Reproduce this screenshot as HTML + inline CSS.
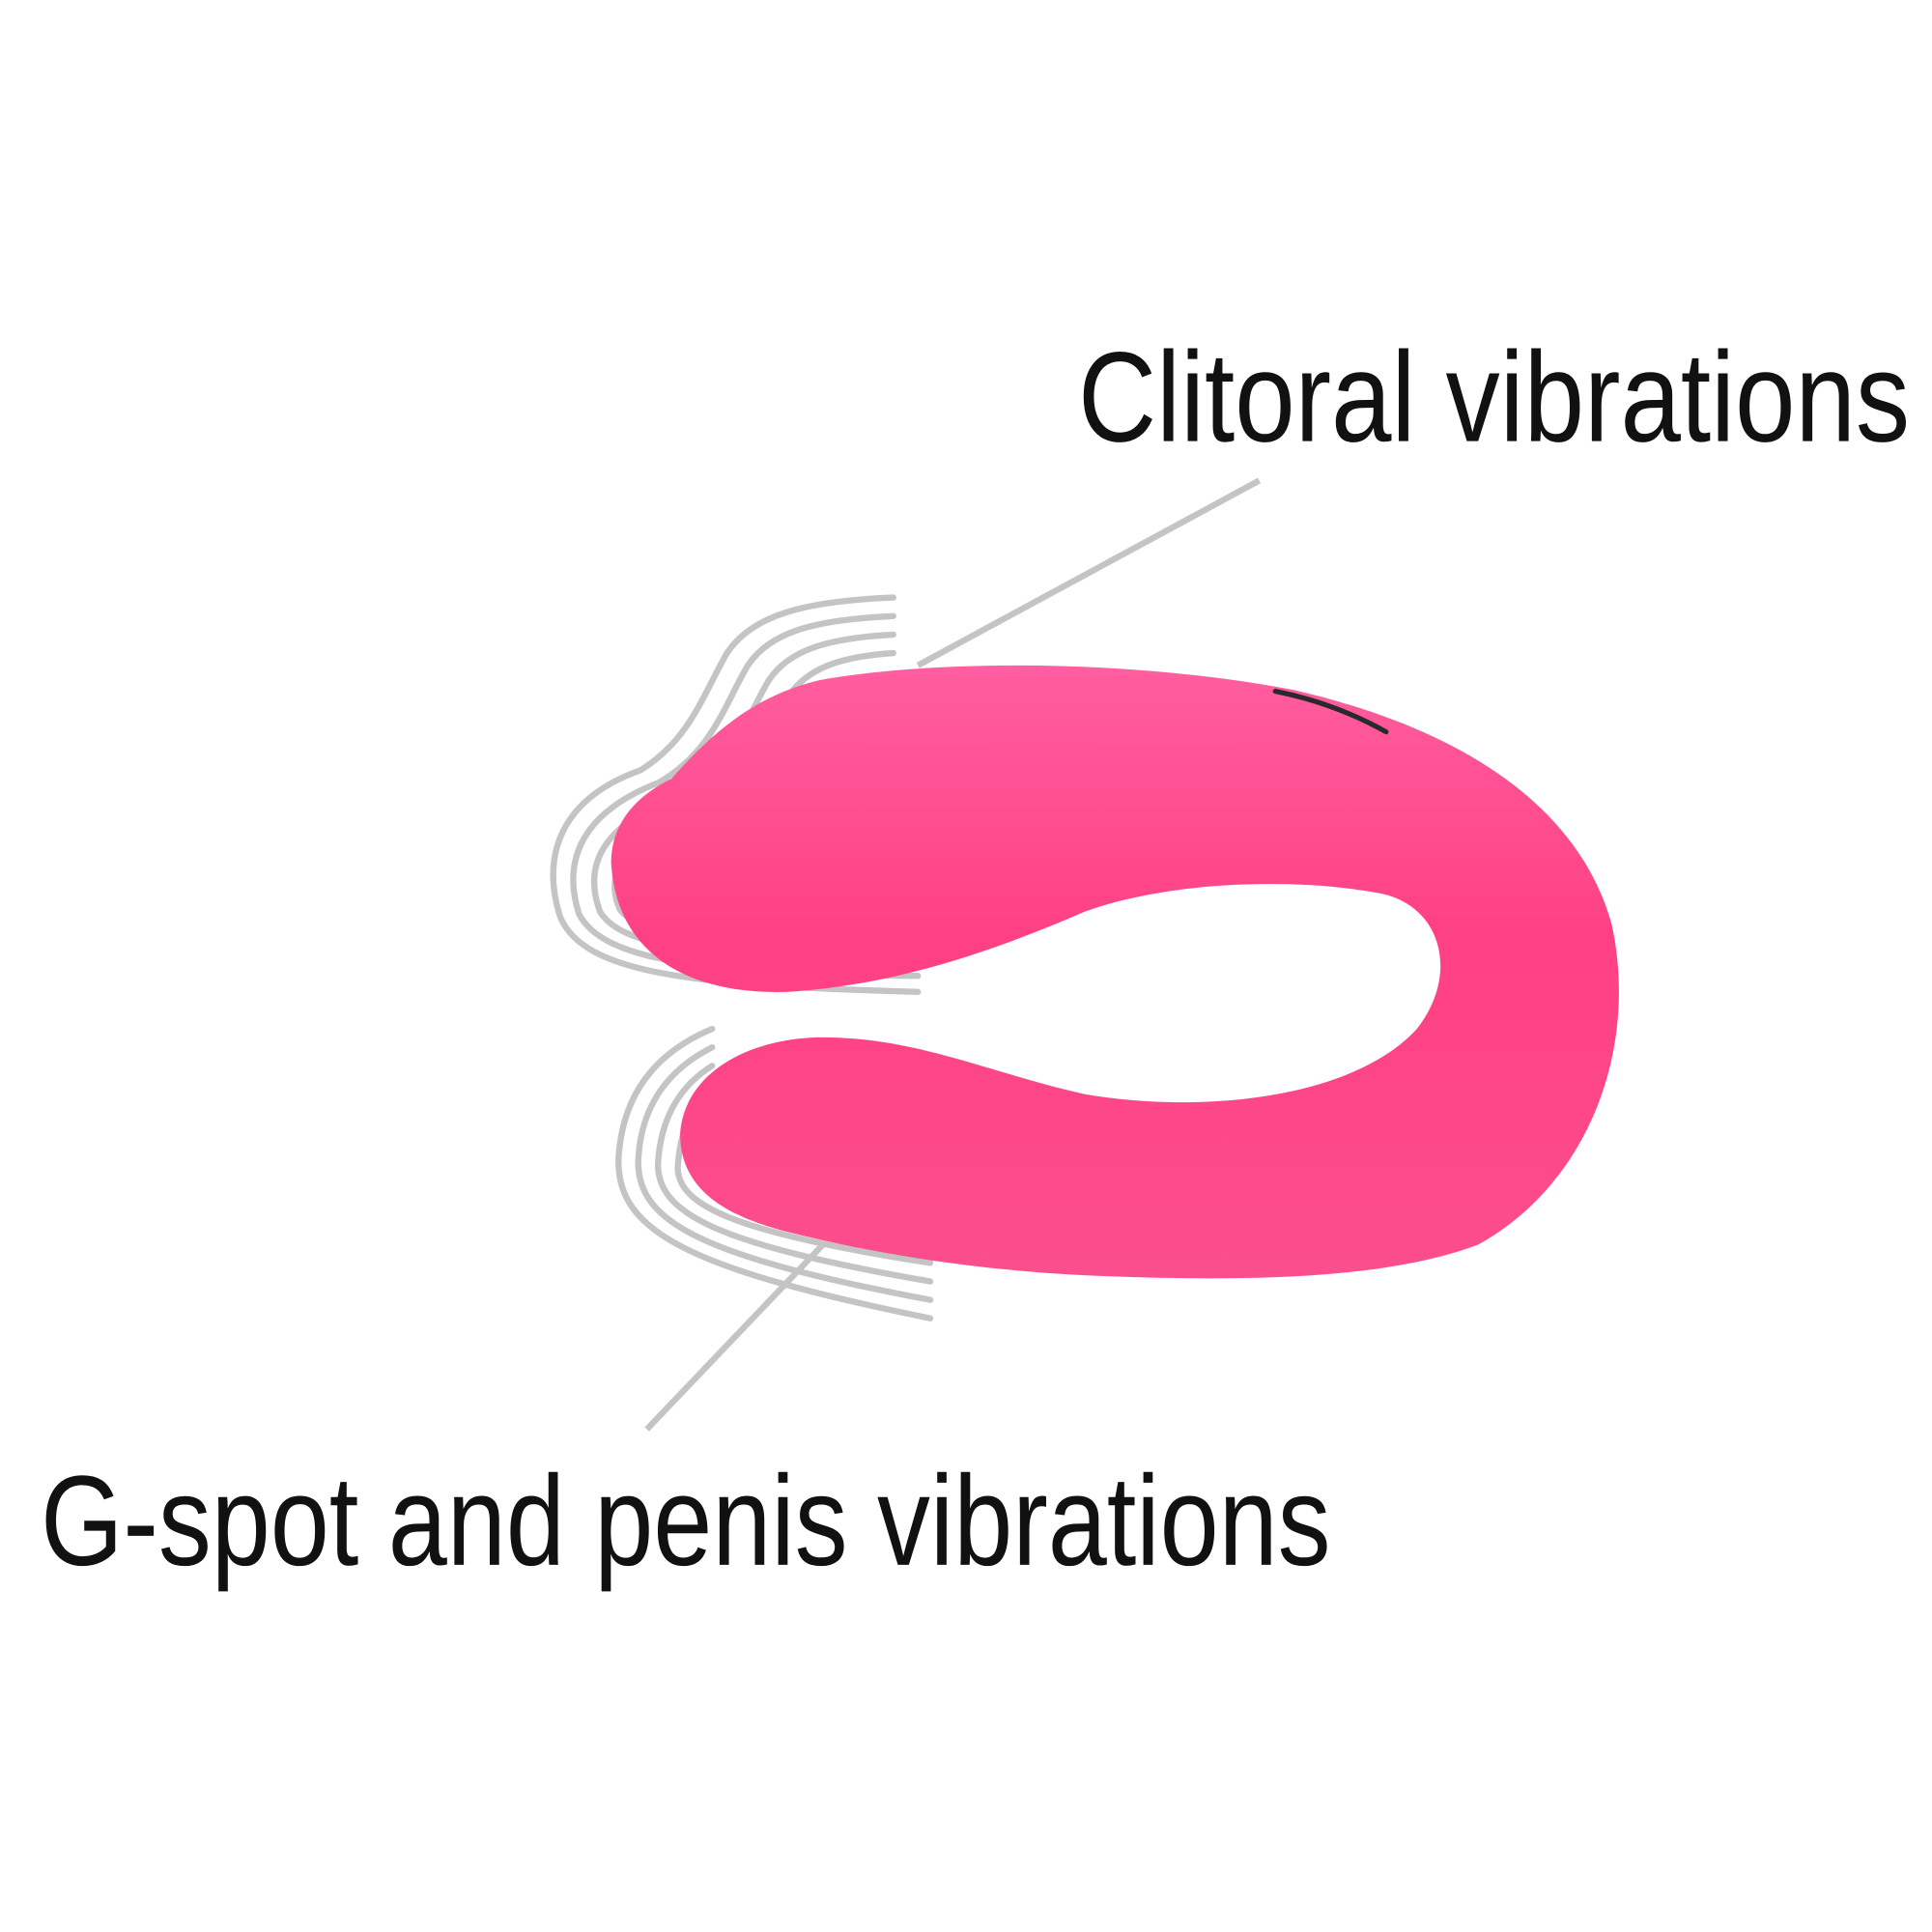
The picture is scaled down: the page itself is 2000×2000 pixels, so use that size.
<!DOCTYPE html>
<html><head><meta charset="utf-8"><style>
html,body{margin:0;padding:0;background:#fff;}
svg{display:block;}
</style></head><body>
<svg width="2000" height="2000" viewBox="0 0 1568 1568" xmlns="http://www.w3.org/2000/svg">
<defs>
<linearGradient id="pg" x1="0" y1="0" x2="0" y2="1">
<stop offset="0" stop-color="#ff5ea0"/>
<stop offset="0.45" stop-color="#ff4082"/>
<stop offset="1" stop-color="#fb4e8d"/>
</linearGradient>
</defs>
<rect width="1568" height="1568" fill="#fff"/>
<!-- vibration lines upper -->
<g fill="none" stroke="#c4c4c4" stroke-width="5" stroke-linecap="round">
<path d="M725,485 C650,488 610,500 590,530 C570,565 560,600 520,625 C450,650 440,700 455,745 C475,790 560,800 745,805"/>
<path d="M725,500 C660,503 625,513 607,540 C588,572 578,610 535,635 C465,662 458,705 470,742 C490,780 570,790 745,792"/>
<path d="M725,515 C670,518 640,528 624,552 C606,582 596,620 550,646 C482,672 475,708 487,740 C505,770 580,778 745,780"/>
<path d="M725,530 C680,533 655,543 640,565 C624,592 614,630 566,657 C500,682 492,712 503,738 C520,762 590,766 745,768"/>
</g>
<!-- vibration lines lower -->
<g fill="none" stroke="#c4c4c4" stroke-width="5" stroke-linecap="round">
<path d="M578,835 C530,855 505,890 502,940 C500,1000 560,1030 755,1070"/>
<path d="M578,850 C542,868 520,898 518,942 C517,992 570,1020 755,1055"/>
<path d="M578,865 C554,880 536,905 534,945 C534,985 582,1010 755,1040"/>
<path d="M578,880 C566,892 552,912 550,948 C551,978 594,1000 755,1025"/>
</g>
<!-- leader lines -->
<g stroke="#c4c4c4" stroke-width="5" fill="none">
<line x1="1022" y1="390" x2="745" y2="540"/>
<line x1="668" y1="1010" x2="525" y2="1160"/>
</g>
<!-- pink body -->
<path fill="url(#pg)" d="M496,700
C496,672 512,648 545,632
C575,598 610,565 665,552
C760,535 920,535 1050,560
C1180,590 1280,650 1308,750
C1330,850 1290,960 1200,1010
C1120,1040 1000,1040 880,1035
C780,1030 700,1015 640,1000
C580,985 552,960 552,920
C555,875 600,845 660,842
C740,840 800,870 880,888
C980,905 1100,890 1150,835
C1185,790 1170,735 1120,725
C1040,710 940,718 880,740
C800,775 720,800 640,805
C560,808 500,775 496,700 Z"/>
<!-- thin dark edge (button) -->
<path d="M1035,561 C1070,568 1100,580 1125,594" fill="none" stroke="#2a2a2e" stroke-width="4" stroke-linecap="round"/>
<!-- text -->
<text x="875" y="358" font-family="Liberation Sans, sans-serif" font-size="104" fill="#111" textLength="675" lengthAdjust="spacingAndGlyphs">Clitoral vibrations</text>
<text x="33" y="1270" font-family="Liberation Sans, sans-serif" font-size="104" fill="#111" textLength="1047" lengthAdjust="spacingAndGlyphs">G-spot and penis vibrations</text>
</svg>
</body></html>
